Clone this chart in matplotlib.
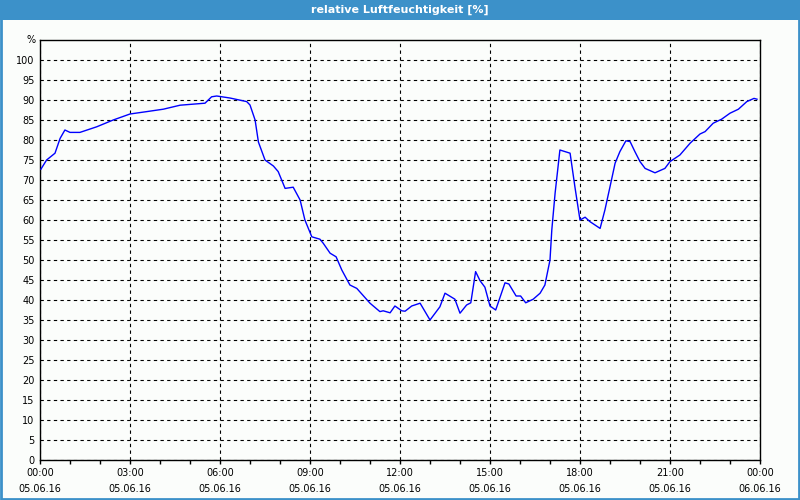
"""
Relative humidity over one day (05.06.16), redrawn in the style of a
weather-station web chart.
"""

import matplotlib
matplotlib.use("Agg")
import matplotlib.pyplot as plt
from matplotlib.patches import Rectangle

# hours since 05.06.16 00:00
hours = [
    0.03, 0.22, 0.5, 0.67, 0.83, 1.0, 1.33, 1.89, 2.44, 3.0,
    3.56, 4.11, 4.67, 5.5, 5.72, 5.89, 6.33, 6.89, 7.0, 7.17,
    7.28, 7.5, 7.78, 7.94, 8.17, 8.44, 8.67, 8.83, 9.06, 9.33,
    9.44, 9.67, 9.87, 10.06, 10.33, 10.56, 11.0, 11.33, 11.44, 11.67,
    11.83, 12.06, 12.17, 12.39, 12.67, 13.0, 13.33, 13.5, 13.83, 14.0,
    14.22, 14.36, 14.52, 14.67, 14.83, 15.0, 15.19, 15.5, 15.63, 15.87,
    16.02, 16.19, 16.44, 16.67, 16.83, 16.91, 17.0, 17.06, 17.17, 17.33,
    17.67, 17.83, 18.0, 18.17, 18.33, 18.67, 18.83, 19.0, 19.17, 19.33,
    19.53, 19.67, 19.83, 20.0, 20.17, 20.5, 20.83, 21.0, 21.33, 21.67,
    22.0, 22.17, 22.44, 22.72, 23.0, 23.28, 23.56, 23.8, 23.9,
]
humidity = [
    72.7, 75.0, 76.7, 80.4, 82.5, 81.9, 81.9, 83.3, 85.0, 86.5,
    87.1, 87.7, 88.7, 89.2, 90.8, 91.0, 90.5, 89.6, 88.75, 85.0,
    79.5, 75.0, 73.5, 72.1, 67.9, 68.2, 65.0, 60.0, 55.8, 55.2,
    54.2, 51.7, 50.8, 47.5, 43.75, 42.9, 39.2, 37.1, 37.3, 36.8,
    38.5, 37.3, 37.2, 38.5, 39.2, 35.0, 38.3, 41.7, 40.2, 36.7,
    38.75, 39.3, 47.1, 44.8, 43.2, 38.5, 37.5, 44.3, 44.0, 41.0,
    41.0, 39.3, 40.2, 41.7, 43.75, 46.7, 50.0, 57.5, 66.7, 77.5,
    76.7, 68.3, 60.0, 60.7, 59.6, 57.9, 62.5, 68.3, 74.2, 77.1,
    79.8, 79.6, 77.1, 74.6, 72.9, 71.8, 72.9, 74.6, 76.25, 79.2,
    81.5, 82.1, 84.2, 85.2, 86.7, 87.7, 89.6, 90.4, 90.2,
]

tick_hours = [0, 3, 6, 9, 12, 15, 18, 21, 24]
tick_times = ["00:00", "03:00", "06:00", "09:00", "12:00", "15:00", "18:00", "21:00", "00:00"]
tick_dates = ["05.06.16"] * 8 + ["06.06.16"]
y_ticks = list(range(0, 101, 5))

title = "relative Luftfeuchtigkeit [%]"
bar_blue = "#3c91c9"
bg = "#fbfdfb"

fig = plt.figure(figsize=(8, 5), dpi=100, facecolor=bg)

# title bar + thin blue frame around the whole image
fig.patches.append(Rectangle((0, 0.96), 1, 0.04, transform=fig.transFigure,
                             facecolor=bar_blue, edgecolor="none", zorder=0))
fig.patches.append(Rectangle((0.001, 0.003), 0.998, 0.995, transform=fig.transFigure,
                             facecolor="none", edgecolor=bar_blue, lw=2, zorder=1))
fig.text(0.5, 0.981, title, color="white", fontsize=8, fontweight="bold",
         ha="center", va="center")

ax = fig.add_axes([0.05, 0.08, 0.90, 0.84])
ax.set_facecolor(bg)
ax.plot(hours, humidity, color="#0000ff", lw=1.0, zorder=3)

ax.set_xlim(0, 24)
ax.set_ylim(0, 105)
ax.set_yticks(y_ticks)
ax.set_yticklabels([str(v) for v in y_ticks], fontsize=7)
ax.set_xticks(tick_hours)
ax.set_xticklabels([f"{t}\n{d}" for t, d in zip(tick_times, tick_dates)],
                   fontsize=7, linespacing=1.75)
ax.set_xticks(range(25), minor=True)
ax.tick_params(axis="x", which="both", direction="out", length=3, width=1,
               color="black", pad=3)
ax.tick_params(axis="y", length=0, pad=4)

ax.grid(True, which="major", color="black", linestyle=(0, (3, 3)), lw=0.8)
for s in ax.spines.values():
    s.set_color("black")
    s.set_linewidth(1)

ax.text(-0.006, 105, "%", transform=ax.get_yaxis_transform(),
        ha="right", va="center", fontsize=7)

fig.savefig("out.png", dpi=100, facecolor=bg)
